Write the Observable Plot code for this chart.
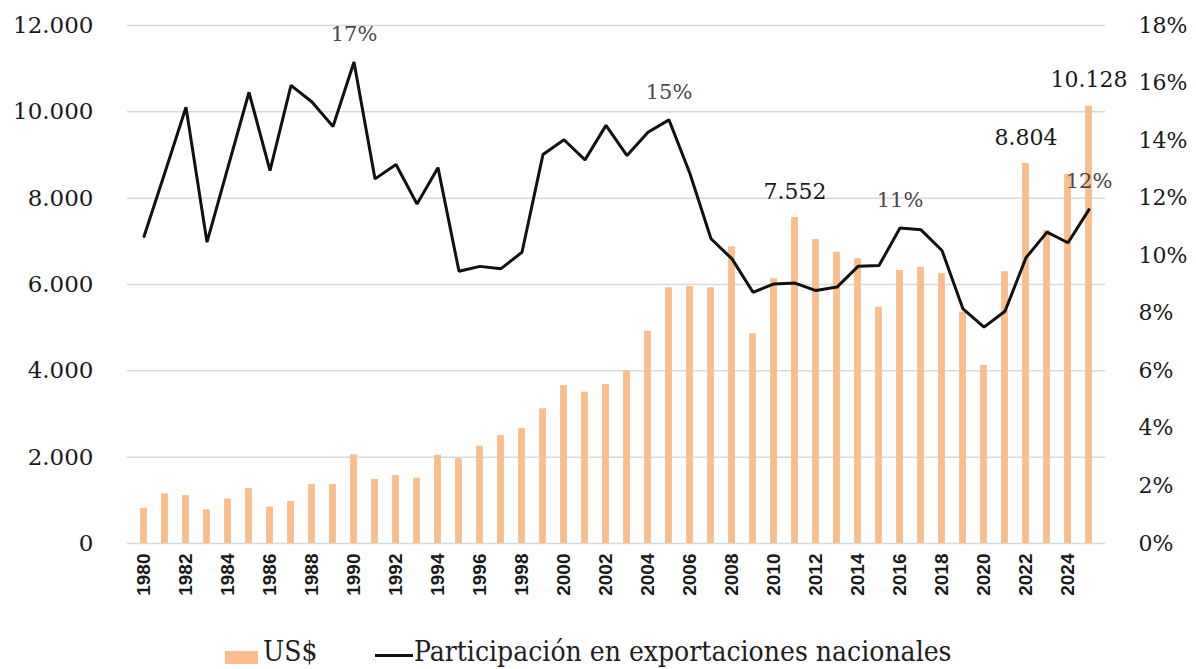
<!DOCTYPE html>
<html>
<head>
<meta charset="utf-8">
<script src="https://cdn.jsdelivr.net/npm/d3@7"></script>
<script src="https://cdn.jsdelivr.net/npm/@observablehq/plot@0.6"></script>
<style>
  body { margin: 0; background: #fff; }
  #wrap { position: relative; width: 1196px; height: 669px; overflow: hidden; }
  #legend { position: absolute; left: 0; top: 636px; width: 1196px; height: 33px;
            font-family: "DejaVu Serif", serif; font-size: 28px; color: #1e1e1e; font-stretch: condensed; }
  .sw { position: absolute; }
  .lt { position: absolute; top: 2px; line-height: 28px; white-space: nowrap; }
</style>
</head>
<body>
<div id="wrap">
  <div id="chart"></div>
  <div id="legend">
    <div class="sw" style="left:225px; top:15px; width:33px; height:13px; background:#F9BE8C"></div>
    <div class="lt" style="left:263px">US$</div>
    <div class="sw" style="left:375px; top:18px; width:38px; height:3px; background:#111"></div>
    <div class="lt" style="left:414px">Participación en exportaciones nacionales</div>
  </div>
</div>
<script>
const years = [1980,1981,1982,1983,1984,1985,1986,1987,1988,1989,
               1990,1991,1992,1993,1994,1995,1996,1997,1998,1999,
               2000,2001,2002,2003,2004,2005,2006,2007,2008,2009,
               2010,2011,2012,2013,2014,2015,2016,2017,2018,2019,
               2020,2021,2022,2023,2024,2025];
// Exports, US$ millions (left axis)
const usd = [815,1150,1110,780,1030,1270,845,975,1370,1370,
             2055,1485,1575,1515,2045,1965,2255,2500,2660,3120,
             3660,3505,3685,3995,4920,5925,5955,5925,6870,4860,
             6135,7552,7040,6750,6595,5475,6325,6400,6250,5360,
             4125,6295,8804,7250,8550,10128];
// Share of national exports, % (right axis)
const share = [10.67,12.9,15.16,10.47,13.08,15.68,12.96,15.92,15.34,14.49,
               16.73,12.67,13.17,11.8,13.06,9.46,9.63,9.55,10.12,13.52,
               14.03,13.33,14.53,13.48,14.29,14.72,12.85,10.59,9.89,8.73,
               9.02,9.05,8.79,8.91,9.63,9.66,10.96,10.9,10.18,8.15,
               7.52,8.07,9.93,10.82,10.45,11.6];
const leftTicks = [0,2000,4000,6000,8000,10000,12000];
const rightTicks = [0,2,4,6,8,10,12,14,16,18];
const xTickYears = [1980,1982,1984,1986,1988,1990,1992,1994,1996,1998,2000,2002,2004,2006,2008,2010,2012,2014,2016,2018,2020,2022,2024];
const shareLabelYears = [1990,2005,2016,2025];
const shareLabelTexts = ["17%","15%","11%","12%"];
const usdLabelYears = [2011,2022,2025];
const usdLabelTexts = ["7.552","8.804","10.128"];

const yMax = 12000, pMax = 18;
const toY = p => p * yMax / pMax;
const data = years.map((y, i) => ({year: y, usd: usd[i], share: share[i]}));
const shareLabels = shareLabelYears.map((y, i) => ({year: y, v: toY(share[years.indexOf(y)]), text: shareLabelTexts[i]}));
const usdLabels = usdLabelYears.map((y, i) => ({year: y, v: usd[years.indexOf(y)], text: usdLabelTexts[i]}));
const fmtL = d => d3.format(",")(d).replace(/,/g, ".");

const chart = Plot.plot({
  width: 1196,
  height: 636,
  marginTop: 25,
  marginBottom: 93,
  marginLeft: 127,
  marginRight: 91,
  style: {fontFamily: "'DejaVu Serif', serif", fontSize: "22px", color: "#1a1a1a", background: "white", overflow: "visible"},
  x: {type: "band", domain: years, padding: 0, label: null, axis: null},
  y: {domain: [0, yMax], label: null},
  marks: [
    Plot.gridY(leftTicks, {stroke: "#d9d9d9", strokeOpacity: 1, strokeWidth: 1.5}),
    Plot.axisY(leftTicks, {anchor: "left", tickSize: 0, tickPadding: 34, tickFormat: fmtL, fontSize: 23, fill: "#1a1a1a"}),
    Plot.axisY(rightTicks.map(toY), {anchor: "right", tickSize: 0, tickPadding: 33, tickFormat: d => Math.round(d * pMax / yMax) + "%", fontSize: 22, fill: "#1a1a1a"}),
    Plot.text(xTickYears, {x: d => d, frameAnchor: "bottom", text: d => String(d), rotate: -90, textAnchor: "end", lineAnchor: "middle", dy: 10,
      fontFamily: "'Liberation Sans', Arial, sans-serif", fontWeight: "bold", fontSize: 19, fill: "#1a1a1a"}),
    Plot.barY(data, {x: "year", y: "usd", fill: "#F9BE8C", insetLeft: 7.1, insetRight: 7.1}),
    Plot.line(data, {x: "year", y: d => toY(d.share), stroke: "#111", strokeWidth: 3, strokeLinejoin: "miter"}),
    Plot.text(shareLabels, {x: "year", y: "v", text: "text", dy: -28, fill: "#4a4a4a", fontSize: 21}),
    Plot.text(usdLabels, {x: "year", y: "v", text: "text", dy: -26, fill: "#1a1a1a", fontSize: 22})
  ]
});
document.getElementById("chart").appendChild(chart);
</script>
</body>
</html>
